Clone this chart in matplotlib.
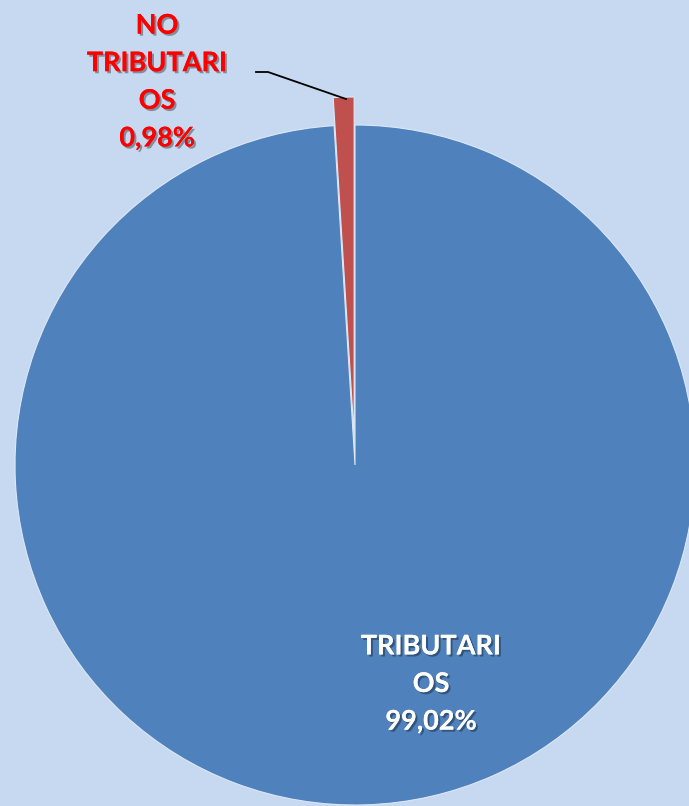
import matplotlib.pyplot as plt
import matplotlib.patheffects as pe

# data
categories = ["NO\nTRIBUTARI\nOS", "TRIBUTARI\nOS"]
values = [0.98, 99.02]
colors = ["#C0504D", "#4F81BD"]
text_colors = ["#FF0000", "white"]

W, H = 689, 806
bg = "#C6D9F0"

fig = plt.figure(figsize=(W / 100, H / 100), dpi=100, facecolor=bg)
ax = fig.add_axes([0, 0, 1, 1])
ax.set_facecolor(bg)

# pixel-like coords, y measured from the top
cx, cy, r = 355, H - 465, 340

wedges, _ = ax.pie(values, colors=colors, startangle=90, radius=r,
                   center=(cx, cy), explode=[28, 0],
                   wedgeprops=dict(edgecolor="#DCE8F5", linewidth=0.8))

shadow = [pe.withSimplePatchShadow(offset=(1.5, -1.5), shadow_rgbFace="black", alpha=0.35), pe.Normal()]

label_pos = [(157, H - 82), (431, H - 684)]
for name, v, tc, (lx, ly) in zip(categories, values, text_colors, label_pos):
    txt = name + "\n" + f"{v:.2f}%".replace(".", ",")
    ax.text(lx, ly, txt, ha="center", va="center", multialignment="center",
            color=tc, fontsize=19.5, fontweight="bold", family="Lato",
            linespacing=1.68, path_effects=shadow)

# leader line for the small slice
ax.plot([256, 268, 346], [H - 72, H - 72, H - 99], color="black", lw=1.3)

ax.set_xlim(0, W)
ax.set_ylim(0, H)
ax.set_aspect("equal", adjustable="box")
ax.axis("off")

fig.savefig("out.png", dpi=100, facecolor=bg)
